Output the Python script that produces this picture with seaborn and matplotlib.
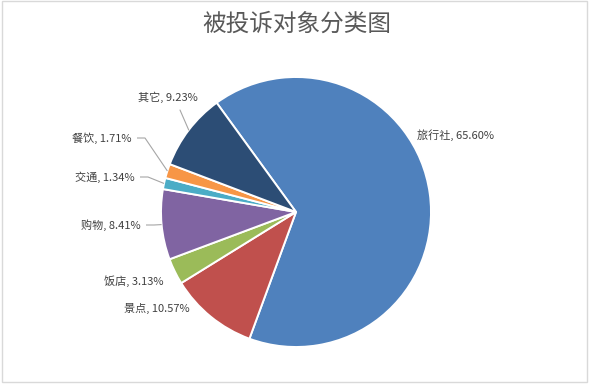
import matplotlib
matplotlib.use("Agg")
import matplotlib.pyplot as plt
import matplotlib.patches as mpatches
import numpy as np
import seaborn as sns

# Complaint targets and their shares (%)
categories = ["旅行社", "景点", "饭店", "购物", "交通", "餐饮", "其它"]
shares = [65.60, 10.57, 3.13, 8.41, 1.34, 1.71, 9.23]
title_text = "被投诉对象分类图"

slice_colors = ["#4F81BD", "#C0504D", "#9BBB59", "#8064A2",
                "#4BACC6", "#F79646", "#2C4D75"]

sns.set_theme(style="white")
plt.rcParams["font.family"] = ["Noto Sans CJK SC", "DejaVu Sans"]

W, H = 593, 384
fig = plt.figure(figsize=(W / 100, H / 100), dpi=100)
ax = fig.add_axes([0, 0, 1, 1])

# work in pixel-like units: y measured from the bottom
cx, cy, R = 296, H - 212, 135
wedges, _ = ax.pie(
    shares,
    colors=sns.color_palette(slice_colors),
    startangle=126,
    counterclock=False,
    center=(cx, cy),
    radius=R,
    wedgeprops=dict(edgecolor="white", linewidth=1.4),
)
ax.set_xlim(0, W)
ax.set_ylim(0, H)
ax.set_aspect("equal")
ax.axis("off")

# label anchor (x, y from top), alignment, leader style
label_layout = {
    "旅行社": (417, 135, "left", None),
    "景点": (190, 308, "right", None),
    "饭店": (163, 281, "right", None),
    "购物": (141, 225, "right", "side"),
    "交通": (135, 177, "right", "side"),
    "餐饮": (132, 138, "right", "side"),
    "其它": (168, 97, "center", "below"),
}

label_color = "#404040"
leader_color = "#A6A6A6"

for wedge, name, share in zip(wedges, categories, shares):
    lx, ly, ha, leader = label_layout[name]
    ty = H - ly
    ax.text(lx, ty, f"{name}, {share:.2f}%", ha=ha, va="center",
            fontsize=8, color=label_color)
    mid = np.deg2rad((wedge.theta1 + wedge.theta2) / 2)
    ex, ey = cx + R * np.cos(mid), cy + R * np.sin(mid)
    if leader == "side":
        sx = lx + 5
        kx = min(lx + 13, ex)
        ax.plot([sx, kx, ex], [ty, ty, ey], color=leader_color, lw=0.8,
                solid_capstyle="butt")
    elif leader == "below":
        ax.plot([lx + 12, ex], [ty - 13, ey], color=leader_color, lw=0.8)

fig.text(297 / W, 1 - 24 / H, title_text, ha="center", va="center",
         fontsize=17, color="#595959", fontweight="medium")

# chart-area frame
ax.add_patch(mpatches.Rectangle((2, H - 382), 585, 381, fill=False,
                                edgecolor="#D9D9D9", lw=1))

fig.savefig("out.png", dpi=100)
